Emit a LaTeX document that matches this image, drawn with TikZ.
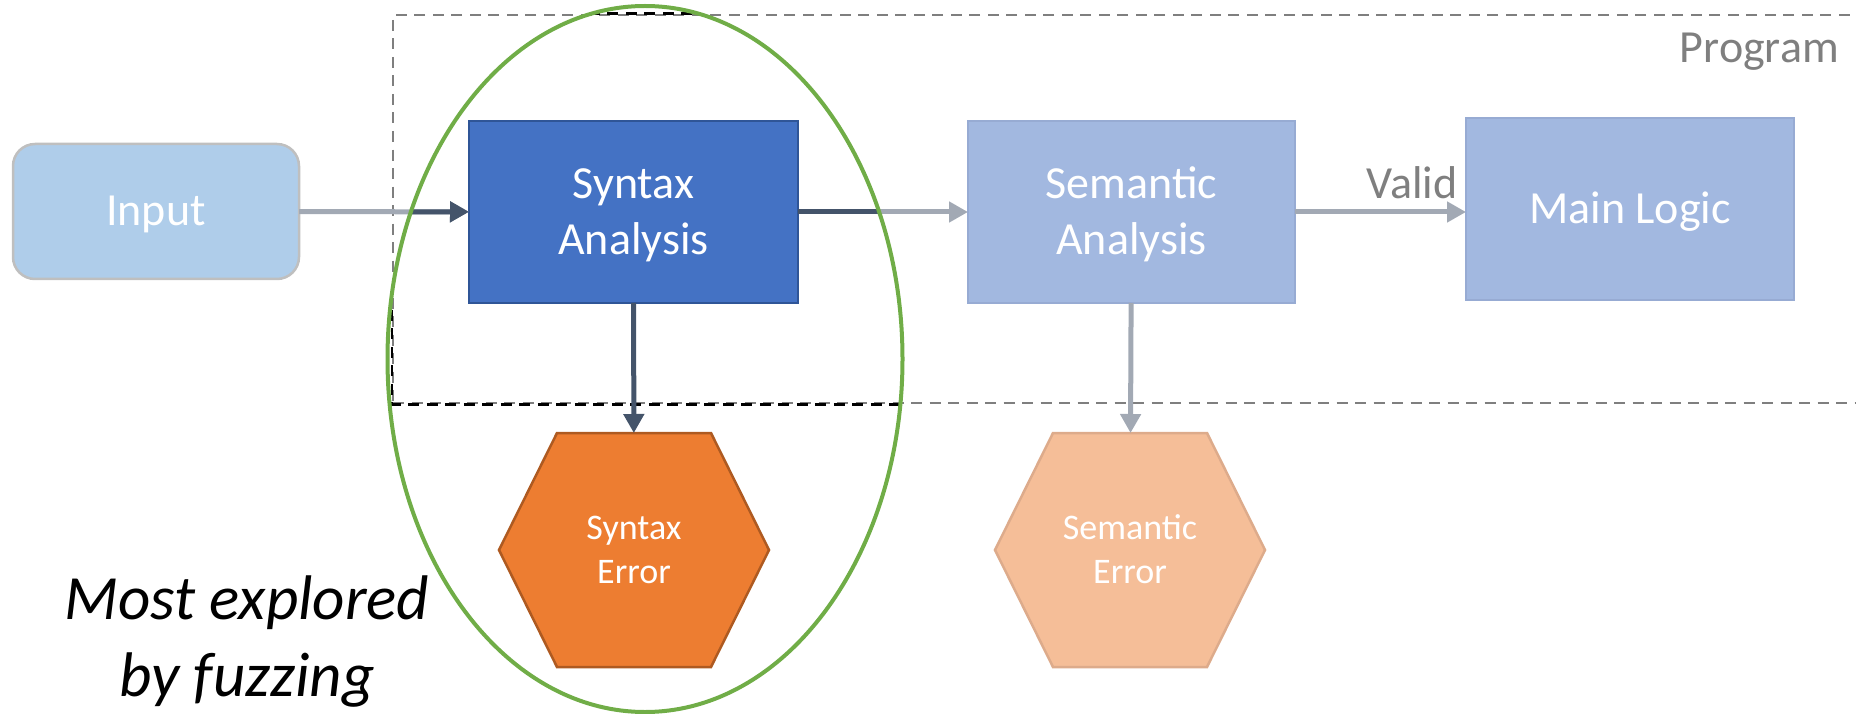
\documentclass[tikz,border=0pt]{standalone}
\usepackage{fontspec}
\setmainfont{Carlito}
\usetikzlibrary{shapes.geometric,arrows.meta,fit,calc}

\definecolor{inputfill}{HTML}{AFCDEA}
\definecolor{inputline}{HTML}{BFBFBF}
\definecolor{synfill}{HTML}{4472C4}
\definecolor{synline}{HTML}{2F5597}
\definecolor{semfill}{HTML}{A2B8E0}
\definecolor{semline}{HTML}{97ABD3}
\definecolor{errfill}{HTML}{ED7D31}
\definecolor{errline}{HTML}{AE5A21}
\definecolor{semerrfill}{HTML}{F5BE98}
\definecolor{semerrline}{HTML}{DDAB8B}
\definecolor{darkarrow}{HTML}{44546A}
\definecolor{lightarrow}{HTML}{A2A9B4}
\definecolor{labelgray}{HTML}{7F7F7F}
\definecolor{focusgreen}{HTML}{70AD47}

% hexagon outline around a centre point
\newcommand\hexpath[1]{($(#1)+(-77,-117)$) -- ($(#1)+(77,-117)$) -- ($(#1)+(135,0)$) -- ($(#1)+(77,117)$) -- ($(#1)+(-77,117)$) -- ($(#1)+(-135,0)$) -- cycle}

\tikzset{
  stagebox/.style={draw, line width=2.5pt, outer sep=0pt, inner sep=0pt, align=center,
    text=white, font=\fontsize{46}{56}\selectfont,
    minimum width=328pt, minimum height=182pt},
  twolines/.style={text height=85pt, text depth=0pt},
  oneline/.style={text height=29pt, text depth=0pt},
  errtext/.style={inner sep=0pt, outer sep=0pt, align=center, text=white,
    font=\fontsize{36}{44}\selectfont, minimum width=270pt, minimum height=234pt,
    text height=66.8pt, text depth=0pt},
  flow/.style={line width=5pt, -{Triangle[length=19pt,width=20pt]}},
  progline/.style={line width=2.5pt, dash pattern=on 11pt off 7.5pt},
  graylabel/.style={text=labelgray, font=\fontsize{46}{56}\selectfont, inner sep=0pt},
}

\begin{document}
\begin{tikzpicture}[x=1pt, y=-1pt]
\useasboundingbox (0,0) rectangle (1856,714);

% program boundary
\node[progline, draw=labelgray, inner sep=0pt, fit={(393,15) (1880,403)}] (prog) {};
\node[graylabel, anchor=base east] (proglabel) at (1839,63) {Program};

% focus region centre
\coordinate (fc) at (645,359);
\begin{scope}
  \clip (fc) ellipse [x radius=257.5pt, y radius=353pt];
  \draw[progline, black] (prog.north west) rectangle (prog.south east);
\end{scope}

% stages
\node[stagebox, oneline, draw=inputline, fill=inputfill, rounded corners=22pt,
      minimum width=286pt, minimum height=135pt] (input) at (156,211.5) {Input};
\node[stagebox, twolines, draw=synline, fill=synfill, minimum width=329pt] (syntax) at (633.5,212) {Syntax\\Analysis};
\node[stagebox, twolines, draw=semline, fill=semfill, minimum width=327pt] (semantic) at (1131.5,212) {Semantic\\Analysis};
\node[stagebox, oneline, draw=semline, fill=semfill] (main) at (1630,209) {Main Logic};

% error outcomes
\coordinate (c1) at (634,550);
\coordinate (c2) at (1130,550);
\filldraw[line width=2.5pt, draw=errline, fill=errfill, line join=miter] \hexpath{c1};
\filldraw[line width=2.5pt, draw=semerrline, fill=semerrfill, line join=miter] \hexpath{c2};
\node[errtext] (synerr) at (c1) {Syntax\\Error};
\node[errtext] (semerr) at (c2) {Semantic\\Error};

% connectors
\draw[flow, lightarrow] (input) -- (syntax);
\draw[flow, lightarrow] (syntax) -- (semantic);
\draw[flow, lightarrow] (semantic) -- (semerr);
\draw[flow, lightarrow] (semantic.east) -- (semantic.east -| main.west)
  node[graylabel, anchor=base east, pos=1, xshift=-6pt, yshift=13pt] (valid) {Valid};
\begin{scope}
  \clip (fc) ellipse [x radius=257.5pt, y radius=353pt];
  \draw[flow, darkarrow] (input) -- (syntax);
  \draw[flow, darkarrow] (syntax) -- (semantic);
\end{scope}
\draw[flow, darkarrow] (syntax) -- (synerr);

% highlighted region and its note
\node[draw=focusgreen, line width=4pt, ellipse, inner sep=0pt,
      minimum width=515pt, minimum height=706pt] (focus) at (fc) {};
\node[align=center, inner sep=0pt, font=\fontsize{63}{77}\selectfont\itshape,
      text height=117pt, text depth=0pt] (note) at (247,638) {Most explored\\by fuzzing};
\end{tikzpicture}
\end{document}
